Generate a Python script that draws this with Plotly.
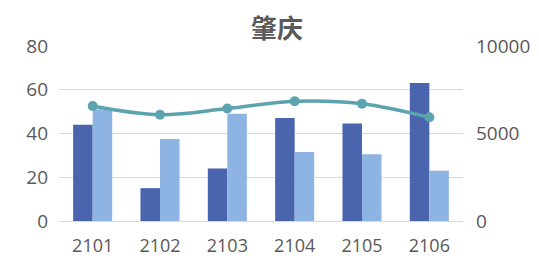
import plotly.graph_objects as go

categories = ["2101", "2102", "2103", "2104", "2105", "2106"]
series_a = [44, 15, 24, 47, 44.5, 63]
series_b = [51, 37.5, 49, 31.5, 30.5, 23]
line_vals = [6570, 6070, 6420, 6840, 6700, 5920]
left_ticks = [0, 20, 40, 60, 80]
right_ticks = [0, 5000, 10000]
right_tick_text = ["0", "5000", "10000"]

font_family = "Open Sans, Noto Sans, sans-serif"
gray = "#595959"

fig = go.Figure()
fig.add_trace(go.Bar(x=categories, y=series_a, marker=dict(color="#4A64AE", line=dict(width=0)), name="A"))
fig.add_trace(go.Bar(x=categories, y=series_b, marker=dict(color="#8EB4E3", line=dict(width=0)), name="B"))
fig.add_trace(go.Scatter(x=categories, y=line_vals, yaxis="y2", mode="lines+markers",
                         line=dict(color="#5BA3AE", width=3.5, shape="spline", smoothing=1.0),
                         marker=dict(size=10, color="#5BA3AE"), name="C"))

fig.update_layout(
    width=539, height=262,
    margin=dict(l=59, r=76, t=45, b=41),
    paper_bgcolor="white", plot_bgcolor="white",
    showlegend=False,
    barmode="group", bargap=0.42, bargroupgap=0,
    title=dict(text="<b>肇庆</b>", x=0.514, xanchor="center", y=1 - 29 / 262, yanchor="middle",
               yref="container",
               font=dict(family="Noto Sans CJK SC", size=26, color=gray)),
    font=dict(family=font_family, color=gray, size=18),
    xaxis=dict(showgrid=False, showline=True, linecolor="#D9D9D9", linewidth=1, automargin=False,
               ticks="", ticklabelstandoff=8, tickfont=dict(size=18, color=gray)),
    yaxis=dict(range=[0, 80.4], tickvals=left_ticks, showgrid=True, gridcolor="#D9D9D9",
               automargin=False,
               zeroline=False, showline=False, ticks="", ticklabelstandoff=10,
               tickfont=dict(size=19, color=gray)),
    yaxis2=dict(range=[0, 10050], tickvals=right_ticks, ticktext=right_tick_text,
                overlaying="y", side="right", automargin=False,
                showgrid=False, zeroline=False, showline=False, ticks="", ticklabelstandoff=12,
                tickfont=dict(size=19, color=gray)),
)

fig.write_html("out.html")
